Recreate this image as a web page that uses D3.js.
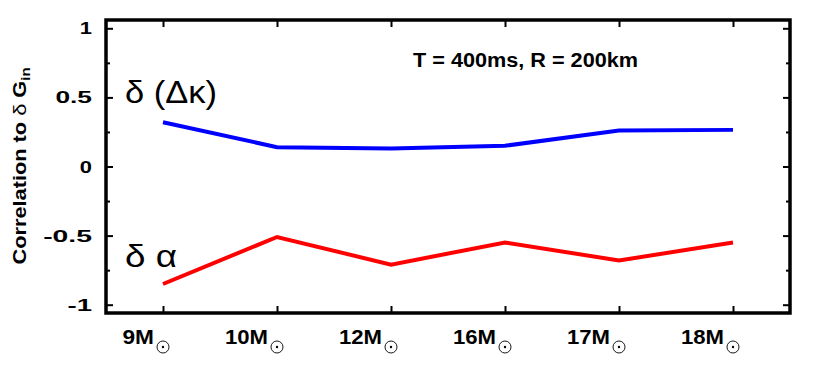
<!DOCTYPE html>
<html>
<head>
<meta charset="utf-8">
<script src="https://cdn.jsdelivr.net/npm/d3@7"></script>
<style>
body { margin: 0; background: #fff; }
text { font-family: "Liberation Sans", Arial, sans-serif; }
</style>
</head>
<body>
<div id="chart"></div>
<script>
var masses = ["9", "10", "12", "16", "17", "18"]
var kappa = [0.32, 0.14, 0.13, 0.15, 0.26, 0.265]
var alpha = [-0.85, -0.51, -0.71, -0.55, -0.68, -0.55]
var yTicks = [-1, -0.5, 0, 0.5, 1]
var yMinor = [-0.75, -0.25, 0.25, 0.75]

var W = 830, H = 372,
    pLeft = 106, pRight = 790, pTop = 20, pBottom = 313

var svg = d3.select("#chart")
    .append("svg")
    .attr("width", W)
    .attr("height", H)

var x = d3.scaleLinear().domain([-0.5, masses.length - 0.5]).range([pLeft, pRight])
var y = d3.scaleLinear().domain([-1.06, 1.06]).range([pBottom, pTop])

// ticks, inward on all four sides
var idx = d3.range(masses.length)
svg.append("g")
    .attr("transform", "translate(0," + pBottom + ")")
    .call(d3.axisBottom(x).tickValues(idx).tickSizeInner(-7).tickSizeOuter(0).tickFormat(""))
svg.append("g")
    .attr("transform", "translate(0," + pTop + ")")
    .call(d3.axisTop(x).tickValues(idx).tickSizeInner(-7).tickSizeOuter(0).tickFormat(""))
svg.append("g")
    .attr("transform", "translate(" + pLeft + ",0)")
    .call(d3.axisLeft(y).tickValues(yTicks).tickSizeInner(-7).tickSizeOuter(0).tickFormat(""))
svg.append("g")
    .attr("transform", "translate(" + pRight + ",0)")
    .call(d3.axisRight(y).tickValues(yTicks).tickSizeInner(-7).tickSizeOuter(0).tickFormat(""))
svg.append("g")
    .attr("transform", "translate(" + pLeft + ",0)")
    .call(d3.axisLeft(y).tickValues(yMinor).tickSizeInner(-4).tickSizeOuter(0).tickFormat(""))
svg.append("g")
    .attr("transform", "translate(" + pRight + ",0)")
    .call(d3.axisRight(y).tickValues(yMinor).tickSizeInner(-4).tickSizeOuter(0).tickFormat(""))
svg.selectAll(".domain").remove()
svg.selectAll(".tick line").attr("stroke", "#000").attr("stroke-width", 2)

// frame
svg.append("rect")
    .attr("x", pLeft)
    .attr("y", pTop)
    .attr("width", pRight - pLeft)
    .attr("height", pBottom - pTop)
    .attr("fill", "none")
    .attr("stroke", "#000")
    .attr("stroke-width", 3.5)

// y tick labels (wide bold glyphs)
svg.selectAll(".ylab")
    .data(yTicks)
    .enter().append("text")
    .attr("x", pLeft - 14)
    .attr("y", function (d) { return y(d) + 6 })
    .attr("text-anchor", "end")
    .attr("font-size", 17)
    .attr("font-weight", "bold")
    .attr("textLength", function (d) { return String(d).length * 12.2 })
    .attr("lengthAdjust", "spacingAndGlyphs")
    .text(function (d) { return d })

// x tick labels
svg.selectAll(".xlab")
    .data(masses)
    .enter().append("text")
    .attr("x", function (d, i) { return x(i) - 9 })
    .attr("y", pBottom + 31)
    .attr("text-anchor", "end")
    .attr("font-size", 20)
    .attr("font-weight", "bold")
    .attr("textLength", function (d) { return d.length * 11.5 + 20 })
    .attr("lengthAdjust", "spacingAndGlyphs")
    .text(function (d) { return d + "M" })

// sun symbol subscript
svg.selectAll(".sun")
    .data(masses)
    .enter().append("circle")
    .attr("cx", function (d, i) { return x(i) })
    .attr("cy", pBottom + 34)
    .attr("r", 6)
    .attr("fill", "none")
    .attr("stroke", "#000")
    .attr("stroke-width", 0.9)
svg.selectAll(".sundot")
    .data(masses)
    .enter().append("circle")
    .attr("cx", function (d, i) { return x(i) })
    .attr("cy", pBottom + 34)
    .attr("r", 1.2)
    .attr("fill", "#000")

// y title
svg.append("text")
    .attr("transform", "translate(26,166) rotate(-90)")
    .attr("text-anchor", "middle")
    .attr("font-size", 19)
    .attr("font-weight", "bold")
    .attr("textLength", 197)
    .attr("lengthAdjust", "spacingAndGlyphs")
    .html('Correlation to <tspan font-weight="normal">δ</tspan> G<tspan dy="4" font-size="13">in</tspan>')

// lines
var line = d3.line()
    .x(function (d, i) { return x(i) })
    .y(function (d) { return y(d) })

svg.append("path")
    .attr("d", line(kappa))
    .attr("fill", "none")
    .attr("stroke", "#0000ff")
    .attr("stroke-width", 4)

svg.append("path")
    .attr("d", line(alpha))
    .attr("fill", "none")
    .attr("stroke", "#ff0000")
    .attr("stroke-width", 4)

// series labels
svg.append("text")
    .attr("x", 125)
    .attr("y", 103)
    .attr("font-family", "Liberation Serif")
    .attr("font-size", 31)
    .attr("textLength", 92)
    .attr("lengthAdjust", "spacingAndGlyphs")
    .text("δ (Δκ)")

svg.append("text")
    .attr("x", 125)
    .attr("y", 267)
    .attr("font-family", "Liberation Serif")
    .attr("font-size", 31)
    .attr("textLength", 52)
    .attr("lengthAdjust", "spacingAndGlyphs")
    .text("δ α")

// annotation
svg.append("text")
    .attr("x", 413)
    .attr("y", 67)
    .attr("font-size", 19.5)
    .attr("font-weight", "bold")
    .attr("textLength", 225)
    .attr("lengthAdjust", "spacingAndGlyphs")
    .text("T = 400ms, R = 200km")
</script>
</body>
</html>
